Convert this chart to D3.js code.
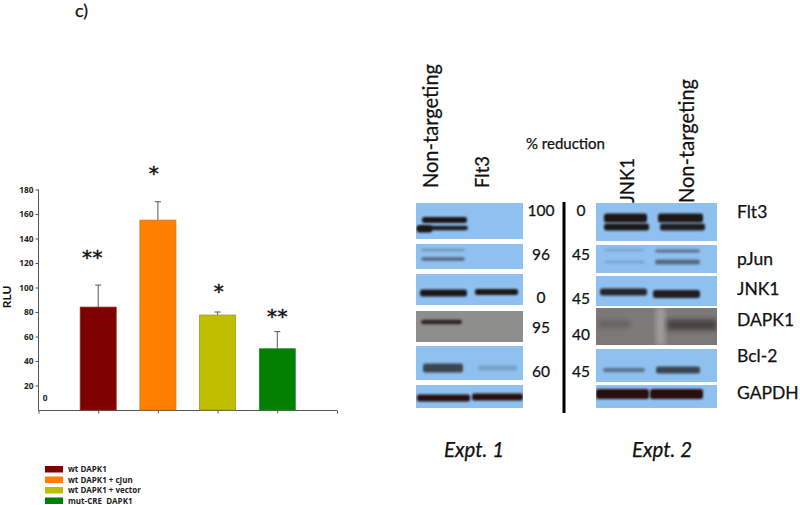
<!DOCTYPE html>
<html><head><meta charset="utf-8">
<script src="https://cdn.jsdelivr.net/npm/d3@7"></script>
<style>html,body{margin:0;background:#fff}svg{display:block}text{font-family:Lato,"Open Sans",sans-serif}</style>
</head><body><svg id="c" width="800" height="505"></svg>
<script>
// Bar chart
const categories=["wt DAPK1","wt DAPK1 + cJun","wt DAPK1 + vector","mut-CRE  DAPK1"];
const values=[84,155,77.5,50];
const errors=[18,15,2.5,14];
const stars=["**","*","*","**"];
const colors=["#7f0000","#ff8000","#bfbf00","#007f00"];
const strokes=["#8a2a20","#c87a20","#9a9a20","#2a8a2a"];
const yTicks=[20,40,60,80,100,120,140,160,180];
// Blot
const lanesTop=["Non-targeting","Flt3","JNK1","Non-targeting"];
const blotLabels=["Flt3","pJun","JNK1","DAPK1","Bcl-2","GAPDH"];
const reductionExpt1=["100","96","0","95","60",""];
const reductionExpt2=["0","45","45","40","45",""];
// per-row band lists: start, end, centre, thickness (in blot units), intensity
const expt1Bands=[
 [[6,51,17,6,1],[1,52,25,4.5,.95],[1,16,26,7,1]],
 [[5,49,6,3,.22],[5,49,15,3.5,.5]],
 [[4,51,19,7,1],[59,102,18,6,1]],
 [[5,46,11,4.5,.85]],
 [[7,47,22,9,.72],[62,101,22,5,.2]],
 [[1,54,13,7,1],[56,107,12,7,1]]];
const expt2Bands=[
 [[8,51,15,9,1],[62,107,15,9,1],[8,53,24,7,1],[64,109,24,7,.95]],
 [[8,49,5,3,.14],[59,104,6,4,.38],[8,49,17,3,.16],[59,104,17,5,.5]],
 [[4,51,16,7,.9],[57,104,18,8,.95]],
 [[2,34,16,7,.25],[71,121,17,11,.55]],
 [[7,49,21,4.5,.42],[60,104,21,7,.72]],
 [[0,53,9,10,1],[54,107,9,10,1]]];

const svg=d3.select("#c");
const defs=svg.append("defs");
const blur=(id,s)=>defs.append("filter").attr("id",id).attr("x","-30%").attr("y","-150%").attr("width","160%").attr("height","400%")
  .append("feGaussianBlur").attr("stdDeviation",s);
blur("b",1.2);blur("b2",2.6);

// ---- bar chart
const x=d3.scalePoint().domain(["start",...categories,"end"]).range([38.5,337]);
const y=d3.scaleLinear().domain([0,180]).range([410,189.5]);
const g=svg.append("g");
const axisY=g.append("g").attr("transform","translate(38.5,0)").call(d3.axisLeft(y).tickValues(yTicks).tickSize(3).tickPadding(2));
const axisX=g.append("g").attr("transform","translate(0,410.5)").call(d3.axisBottom(x).tickSize(3).tickFormat(""));
[axisY,axisX].forEach(a=>{a.select(".domain").attr("stroke","#555").attr("d",a===axisY?"M0,189.5V410.5":"M38.5,0H337");a.selectAll("line").attr("stroke","#555")});
axisY.selectAll("text").attr("fill","#222").style("font","700 8.3px 'Open Sans'");
const bw=36;
const err=g.selectAll(".e").data(categories).join("g");
err.append("line").attr("x1",c=>x(c)).attr("x2",c=>x(c)).attr("y1",(c,i)=>y(values[i])).attr("y2",(c,i)=>y(values[i]+errors[i])).attr("stroke","#555");
err.append("line").attr("x1",c=>x(c)-3).attr("x2",c=>x(c)+3).attr("y1",(c,i)=>y(values[i]+errors[i])).attr("y2",(c,i)=>y(values[i]+errors[i])).attr("stroke","#555");
g.selectAll(".bar").data(categories).join("rect").attr("x",c=>x(c)-bw/2).attr("width",bw)
 .attr("y",(c,i)=>y(values[i])).attr("height",(c,i)=>y(0)-y(values[i]))
 .attr("fill",(c,i)=>colors[i]).attr("stroke",(c,i)=>strokes[i]).attr("stroke-width",.8);
const starY=[264,180,298,323],starX=[92.5,154,219,277.5];
g.selectAll(".s").data(stars).join("text").attr("x",(d,i)=>starX[i]).attr("y",(d,i)=>starY[i])
 .attr("text-anchor","middle").attr("fill","#111").attr("stroke","#111").attr("stroke-width",.5)
 .style("font","400 20px 'DejaVu Sans'").style("letter-spacing","0.5px").text(d=>d);
g.append("text").attr("transform","translate(11,297) rotate(-90)").attr("text-anchor","middle").style("font","700 12px Lato").attr("fill","#111").text("RLU");
g.append("text").attr("x",45).attr("y",401).attr("text-anchor","middle").style("font","700 8.3px 'Open Sans'").attr("fill","#222").text("0");
// legend
const ly=d3.scalePoint().domain(categories).range([469,500.5]);
const lg=g.selectAll(".l").data(categories).join("g");
lg.append("rect").attr("x",45).attr("width",18).attr("y",c=>ly(c)-3).attr("height",6.5).attr("fill",(c,i)=>colors[i]);
lg.append("text").attr("x",68).attr("y",c=>ly(c)+3).style("font","700 8px 'Open Sans'").style("white-space","pre").attr("fill","#222").text(c=>c);

// ---- text labels
const t=(s,xx,yy,size,opt={})=>{const n=svg.append("text").attr("transform",`translate(${xx},${yy})${opt.rot?" rotate(-90)":""}`)
  .attr("text-anchor",opt.anchor||"start").style("font",`${opt.italic?"italic ":""}400 ${size}px Lato`)
  .attr("fill","#111").attr("stroke","#111").attr("stroke-width",.25).text(s);
  if(opt.len) n.attr("textLength",opt.len).attr("lengthAdjust","spacingAndGlyphs");return n;};
t("c)",75,17,18);
const laneX=[438,489,634,694], laneY=[188,188,203,203];
lanesTop.forEach((s,i)=>t(s,laneX[i],laneY[i],i===1||i===2?18.5:22,{rot:1,len:i===1||i===2?null:124}));
t("% reduction",526,149,15);

// ---- blots
const rows1=[[203,239],[244,269],[274,305],[311,342],[346,380],[385,408]];
const rows2=[[203,241],[245,273],[276,306],[308,345],[349,382],[385,408]];
const panel=(left,width,rows,bands,greyFill)=>{
  const gx=d3.scaleLinear().domain([0,width]).range([left,left+width]);
  const pg=svg.append("g");
  rows.forEach((r,i)=>{
    const gy=d3.scaleLinear().domain([0,r[1]-r[0]]).range(r);
    const grey=i===3;
    const clip="cl"+left+i;
    defs.append("clipPath").attr("id",clip).append("rect").attr("x",left).attr("y",r[0]).attr("width",width).attr("height",r[1]-r[0]);
    const row=pg.append("g").attr("clip-path",`url(#${clip})`);
    row.append("rect").attr("x",left).attr("y",r[0]).attr("width",width).attr("height",r[1]-r[0]).attr("fill",grey?greyFill:"#8fc1f0");
    if(grey&&left>500) row.append("rect").attr("x",gx(60)).attr("y",r[0]).attr("width",9).attr("height",r[1]-r[0]).attr("fill","#a09e9c").attr("filter","url(#b2)");
    row.selectAll(".band").data(bands[i]).join("rect")
      .attr("x",d=>gx(d[0])).attr("width",d=>gx(d[1])-gx(d[0]))
      .attr("y",d=>gy(d[2]-d[3]/2)).attr("height",d=>gy(d[3])-gy(0)).attr("rx",2.5)
      .attr("fill",i===5?"#2a0e0c":"#1f1614").attr("opacity",d=>d[4]).attr("filter",grey&&left>500?"url(#b2)":"url(#b)");
  });
};
panel(416,107,rows1,expt1Bands,"#8e8e8c");
panel(596,121,rows2,expt2Bands,"#7c7a78");
svg.append("line").attr("x1",564).attr("x2",564).attr("y1",202).attr("y2",413).attr("stroke","#000").attr("stroke-width",3);

const numY1=[216,260,303,333,377], numY2=[216,260,304,340,377];
reductionExpt1.forEach((s,i)=>s&&t(s,541,numY1[i],15.5,{anchor:"middle"}));
reductionExpt2.forEach((s,i)=>s&&t(s,581,numY2[i],15.5,{anchor:"middle"}));
const labelY=[218,265,295,326,362,399];
blotLabels.forEach((s,i)=>t(s,737,labelY[i],17.5));
t("Expt. 1",444,457,20.5,{italic:1});
t("Expt. 2",632,457,20.5,{italic:1});
</script></body></html>
